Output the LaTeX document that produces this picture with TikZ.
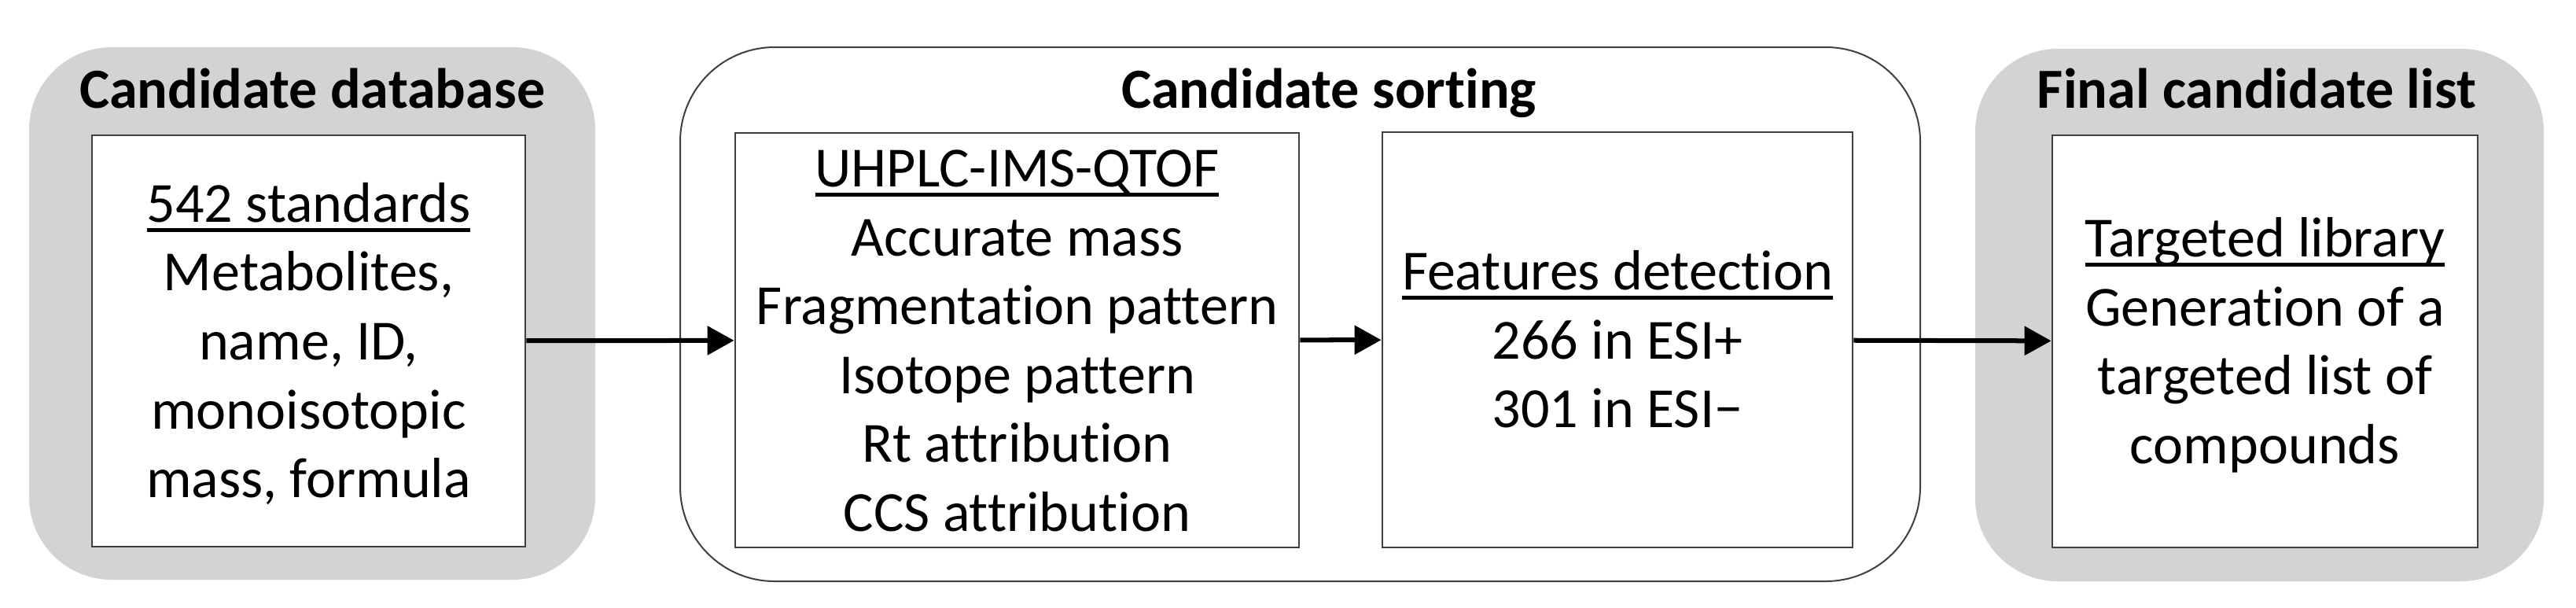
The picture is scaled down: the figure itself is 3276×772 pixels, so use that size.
\documentclass[tikz,border=0pt]{standalone}
\usepackage{fontspec}
\setmainfont{Carlito}[Ligatures=NoCommon]
\usetikzlibrary{arrows.meta}
\definecolor{panelgrey}{RGB}{211,211,211}
\definecolor{edgegrey}{RGB}{64,64,64}
\newcommand{\underhead}[1]{\setbox0\hbox{#1}\rlap{\rule[-0.17em]{\wd0}{0.065em}}\box0}
\newcommand{\topstrut}{\rule{0pt}{0.68cm}}
\newcommand{\botstrut}{\rule[-0.2cm]{0pt}{0.2cm}}

\begin{document}
\begin{tikzpicture}[x=0.01cm,y=-0.01cm,
  panel/.style={fill=panelgrey,rounded corners=1.05cm},
  frame/.style={draw=edgegrey,line width=0.02cm,rounded corners=1.2cm},
  title/.style={anchor=base,inner sep=0pt,font=\fontsize{20.5}{24.9}\selectfont\bfseries},
  stage/.style={draw=edgegrey,line width=0.025cm,fill=white,inner sep=0pt,align=center,
    font=\fontsize{20.5}{24.9}\selectfont},
  flow/.style={-{Triangle[length=0.34cm,width=0.36cm]},line width=0.06cm}]
	\useasboundingbox (0,0) rectangle (3276,772);
	% background panels
	\fill[panel] (37,60) rectangle (757,737);
	\draw[frame] (865,60) rectangle (2442,739);
	\fill[panel] (2512,62) rectangle (3235,739);
	% titles
	\node[title] (dbtitle) at (397,137) {Candidate database};
	\node[title] (sorttitle) at (1690,137) {Candidate sorting};
	\node[title] (finaltitle) at (2870,137) {Final candidate list};
	% stages
	\node[stage,minimum width=5.51cm,minimum height=5.23cm] (db) at (392.5,433.5)
		{\topstrut\underhead{542 standards}\\ Metabolites,\\ name, ID,\\ monoisotopic\\ mass, formula\botstrut};
	\node[stage,minimum width=7.17cm,minimum height=5.27cm] (uhplc) at (1293.5,432.5)
		{\topstrut\underhead{UHPLC-IMS-QTOF}\\ Accurate mass\\ Fragmentation pattern\\ Isotope pattern\\ Rt attribution\\ CCS attribution\botstrut};
	\node[stage,minimum width=5.98cm,minimum height=5.28cm] (feat) at (2057,432)
		{\topstrut\underhead{Features detection}\\ 266 in ESI+\\ 301 in ESI−\botstrut};
	\node[stage,minimum width=5.41cm,minimum height=5.24cm] (lib) at (2880.5,434)
		{\topstrut\underhead{Targeted library}\\ Generation of a\\ targeted list of\\ compounds\botstrut};
	\path[flow]
	(db) edge (uhplc)
	(uhplc) edge (feat)
	(feat) edge (lib);
\end{tikzpicture}
\end{document}
